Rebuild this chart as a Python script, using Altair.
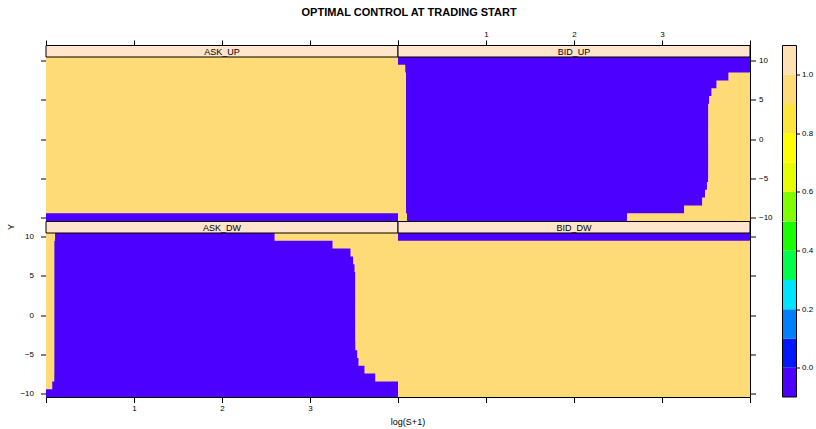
import altair as alt
import pandas as pd

# ---------------- data ----------------
Y = list(range(-10, 11))          # inventory levels (rows)
X_MAX = 4.0                        # right end of log(S+1) grid
PANEL_NAMES = ["ASK_UP", "BID_UP", "ASK_DW", "BID_DW"]

# For each panel and each Y (-10 .. 10): control = 0 on [left, right), 1 elsewhere on [0, X_MAX]
ASK_UP_left = [0.0] + [4.0] * 20
ASK_UP_right = [4.0] * 21

BID_UP_left = [0.102] + [0.091] * 18 + [0.083, 0.0]
BID_UP_right = [2.605, 3.253, 3.458, 3.489, 3.511] + [3.526] * 10 + [3.537, 3.564, 3.621, 3.757, 4.0, 4.0]

ASK_DW_left = [0.0, 0.074] + [0.097] * 18 + [0.105]
ASK_DW_right = [4.0, 4.0, 3.741, 3.619, 3.551, 3.536] + [3.515] * 10 + [3.506, 3.490, 3.460, 3.256, 2.597]

BID_DW_left = [4.0] * 20 + [0.0]
BID_DW_right = [4.0] * 21

BOUNDS = {
    "ASK_UP": (ASK_UP_left, ASK_UP_right),
    "BID_UP": (BID_UP_left, BID_UP_right),
    "ASK_DW": (ASK_DW_left, ASK_DW_right),
    "BID_DW": (BID_DW_left, BID_DW_right),
}
OUTSIDE_VALUE = 1
INSIDE_VALUE = 0

LEVELS = [-0.1, 0.0, 0.1, 0.2, 0.3, 0.4, 0.5, 0.6, 0.7, 0.8, 0.9, 1.0, 1.1]
LEVEL_COLORS = ["#4C00FF", "#0019FF", "#0080FF", "#00E5FF", "#00FF4D", "#1AFF00",
                "#80FF00", "#E6FF00", "#FFFF00", "#FFE53B", "#FFDB77", "#FFE0B3"]
CB_TICKS = [0.0, 0.2, 0.4, 0.6, 0.8, 1.0]
X_TICKS = [0, 1, 2, 3, 4]
Y_TICKS = [-10, -5, 0, 5, 10]

# ---------------- styling ----------------
FONT = "Liberation Sans"
W = 352
STRIP_H = 11.5
HEAT_H = 164
H = STRIP_H + HEAT_H
STRIP_FILL = "#FFE5CC"
TICK = 5.5
CB_GAP = 32.5
CB_W = 14

cscale = alt.Scale(type="threshold",
                   domain=[v + 1e-6 for v in LEVELS[1:-1]],
                   range=LEVEL_COLORS)
XS = alt.Scale(domain=[0, X_MAX], nice=False, zero=False)
YS = alt.Scale(domain=[Y[0] - 0.5, Y[-1] + 0.5], range=[H, STRIP_H], nice=False, zero=False)


def segments(name):
    """Cells row by row (bottom to top). Each row is painted from its lower edge up to the
    grid top, so the following row paints over it: no anti-aliasing seams between rows."""
    left, right = BOUNDS[name]
    top = Y[-1] + 0.5
    rows = []
    for yv, a, b in zip(Y, left, right):
        for x0, x1, v in [(0.0, a, OUTSIDE_VALUE), (a, b, INSIDE_VALUE), (b, X_MAX, OUTSIDE_VALUE)]:
            if x1 > x0:
                rows.append({"x0": x0, "x1": x1, "y0": yv - 0.5, "y1": top, "value": v})
    return pd.DataFrame(rows)


def xaxis(orient, labels, title=None):
    kw = dict(orient=orient, values=X_TICKS, labels=labels, domain=False, grid=False,
              ticks=True, tickSize=TICK, tickColor="black", labelFontSize=8,
              labelFont=FONT, labelColor="black", labelPadding=2, format="d",
              labelExpr="datum.value >= 1 && datum.value <= 3 ? datum.label : ''")
    if title:
        kw.update(title=title, titleFont=FONT, titleFontSize=9, titleFontWeight="normal",
                  titleColor="black", titleX=361.5, titleY=24.5, titleBaseline="middle")
    else:
        kw.update(title=None)
    return alt.Axis(**kw)


def yaxis(orient, labels, title=None):
    kw = dict(orient=orient, values=Y_TICKS, labels=labels, domain=False, grid=False,
              ticks=True, tickSize=TICK, tickColor="black", labelFontSize=8,
              labelFont=FONT, labelColor="black",
              labelPadding=7 if orient == "left" else 3)
    if title:
        kw.update(title=title, titleFont=FONT, titleFontSize=9, titleFontWeight="normal",
                  titleColor="black", titleX=-36, titleY=5, titleBaseline="middle", titleAngle=270)
    else:
        kw.update(title=None)
    return alt.Axis(**kw)


def panel(name, xa, ya):
    heat = alt.Chart(segments(name)).mark_rect().encode(
        x=alt.X("x0:Q", scale=XS, axis=xa),
        x2="x1:Q",
        y=alt.Y("y0:Q", scale=YS, axis=ya),
        y2="y1:Q",
        color=alt.Color("value:Q", scale=cscale, legend=None),
    )
    sdf = pd.DataFrame({"panel": [name]})
    strip = alt.Chart(sdf).mark_rect(fill=STRIP_FILL, stroke="black", strokeWidth=1).encode(
        x=alt.value(0), x2=alt.value(W), y=alt.value(0), y2=alt.value(STRIP_H))
    label = alt.Chart(sdf).mark_text(font=FONT, fontSize=9, color="black", baseline="middle").encode(
        text="panel:N", x=alt.value(W / 2), y=alt.value(STRIP_H / 2 + 0.5))
    return alt.layer(heat, strip, label).properties(width=W, height=H)


def colorbar_half(lo_v, hi_v, top):
    df = pd.DataFrame({"lo": LEVELS[:-1], "hi": LEVELS[1:], "color": LEVEL_COLORS})
    df = df[(df["lo"] >= lo_v - 1e-9) & (df["hi"] <= hi_v + 1e-9)]
    ticks = [t for t in CB_TICKS if lo_v <= t < hi_v]
    bar = alt.Chart(df).mark_rect().encode(
        y=alt.Y("lo:Q", scale=alt.Scale(domain=[lo_v, hi_v], nice=False, zero=False),
                axis=alt.Axis(orient="right", values=ticks, format=".1f", title=None, domain=False,
                              grid=False, tickSize=3, tickColor="black", labelFontSize=8,
                              labelFont=FONT, labelColor="black", labelPadding=2)),
        y2="hi:Q",
        x=alt.value(CB_GAP), x2=alt.value(CB_GAP + CB_W),
        color=alt.Color("color:N", scale=None),
    )
    one = pd.DataFrame({"k": [0]})
    sides = alt.Chart(one).mark_rule(color="black", strokeWidth=1).encode(
        x=alt.value(CB_GAP), y=alt.value(0), y2=alt.value(H))
    sides2 = alt.Chart(one).mark_rule(color="black", strokeWidth=1).encode(
        x=alt.value(CB_GAP + CB_W), y=alt.value(0), y2=alt.value(H))
    edge = alt.Chart(one).mark_rule(color="black", strokeWidth=1).encode(
        x=alt.value(CB_GAP), x2=alt.value(CB_GAP + CB_W), y=alt.value(0 if top else H))
    return alt.layer(bar, sides, sides2, edge).properties(
        width=CB_GAP + CB_W, height=H, view=alt.ViewBackground(stroke=None))


p_askup = panel("ASK_UP", xaxis("top", False), yaxis("left", False))
p_bidup = panel("BID_UP", xaxis("top", True), yaxis("right", True))
p_askdw = panel("ASK_DW", xaxis("bottom", True, "log(S+1)"), yaxis("left", True, "Y"))
p_biddw = panel("BID_DW", xaxis("bottom", False), yaxis("right", False))
cb_top = colorbar_half(0.5, 1.1, True)
cb_bot = colorbar_half(-0.1, 0.5, False)

chart = alt.concat(
    p_askup, p_bidup, cb_top, p_askdw, p_biddw, cb_bot,
    columns=3, spacing=0, bounds="flush", align="each",
).properties(
    title=alt.TitleParams("OPTIMAL CONTROL AT TRADING START", font=FONT, fontSize=11,
                          fontWeight="bold", anchor="middle", color="black", offset=11.5),
    padding={"left": 5, "top": 6.5, "right": 3, "bottom": 3},
    background="white",
).configure_view(stroke="black", strokeWidth=1)

chart.save("out.html", embed_options={"renderer": "svg", "actions": False})
